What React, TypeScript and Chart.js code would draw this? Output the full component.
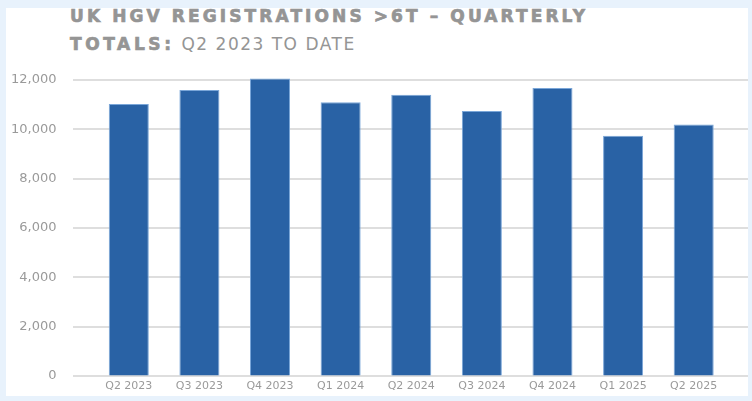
import React, { useEffect, useRef } from "react";
import { Chart, registerables } from "chart.js";

Chart.register(...registerables);

const categories = ["Q2 2023", "Q3 2023", "Q4 2023", "Q1 2024", "Q2 2024", "Q3 2024", "Q4 2024", "Q1 2025", "Q2 2025"];
const registrations = [11025, 11590, 12065, 11095, 11400, 10740, 11675, 9740, 10200];
const titleLine1 = "UK HGV REGISTRATIONS >6T \u2013 QUARTERLY";
const titleBold2 = "TOTALS:";
const titleRest2 = " Q2 2023 TO DATE";

const gridPlugin = {
  id: "fullGrid",
  beforeDatasetsDraw(chart: any) {
    const y = chart.scales.y;
    const ctx = chart.ctx;
    ctx.save();
    ctx.strokeStyle = "#dedede";
    ctx.lineWidth = 2;
    y.ticks.forEach((t: any) => {
      const py = Math.round(y.getPixelForValue(t.value));
      ctx.beginPath();
      ctx.moveTo(73, py);
      ctx.lineTo(748, py);
      ctx.stroke();
    });
    ctx.restore();
  },
};

export default function App() {
  const ref = useRef<HTMLCanvasElement>(null);
  useEffect(() => {
    if (!ref.current) return;
    const chart = new Chart(ref.current, {
      type: "bar",
      data: {
        labels: categories,
        datasets: [
          {
            data: registrations,
            backgroundColor: "#2962a5",
            borderColor: "#7aa6d8",
            borderWidth: 1,
            barPercentage: 0.567,
            categoryPercentage: 1,
            clip: false as any,
          },
        ],
      },
      options: {
        animation: false,
        responsive: true,
        maintainAspectRatio: false,
        layout: { padding: { top: 80, right: 23, left: 11, bottom: 0 } },
        plugins: { legend: { display: false }, tooltip: { enabled: false }, title: { display: false } },
        scales: {
          x: {
            grid: { display: false, drawTicks: false },
            border: { display: false },
            ticks: { color: "#9a9a9a", font: { family: "DejaVu Sans", size: 11 }, padding: 4, maxRotation: 0, autoSkip: false },
            afterFit(scale: any) {
              scale.height = 25;
            },
          },
          y: {
            min: 0,
            max: 12000,
            grid: { display: true, drawOnChartArea: false, drawTicks: true, tickLength: 37, color: "rgba(0,0,0,0)" },
            border: { display: false },
            ticks: {
              stepSize: 2000,
              color: "#9a9a9a",
              font: { family: "DejaVu Sans", size: 13 },
              padding: 0,
              callback: (v: any) => Number(v).toLocaleString("en-US"),
            },
          },
        },
      },
      plugins: [gridPlugin],
    });
    return () => chart.destroy();
  }, []);

  const titleCommon: React.CSSProperties = {
    position: "absolute",
    left: 70,
    whiteSpace: "nowrap",
    color: "#959595",
    fontFamily: "DejaVu Sans",
    fontSize: 17,
    letterSpacing: "3.1px",
    lineHeight: "20px",
  };

  return (
    <div style={{ position: "fixed", left: 0, top: 0, width: 752, height: 401, background: "#e8f2fc", overflow: "hidden" }}>
      <div style={{ position: "absolute", left: 6, top: 8, width: 742, height: 388, background: "#ffffff" }} />
      <div style={{ ...titleCommon, top: 6, fontWeight: 700, WebkitTextStroke: "0.7px #959595" }}>{titleLine1}</div>
      <div style={{ ...titleCommon, top: 34 }}>
        <span style={{ fontWeight: 700, WebkitTextStroke: "0.7px #959595", letterSpacing: "3.6px" }}>{titleBold2}</span>
        <span style={{ fontWeight: 400, letterSpacing: "1.5px" }}>{titleRest2}</span>
      </div>
      <div style={{ position: "absolute", left: 0, top: 0, width: 752, height: 401 }}>
        <canvas ref={ref} />
      </div>
    </div>
  );
}
